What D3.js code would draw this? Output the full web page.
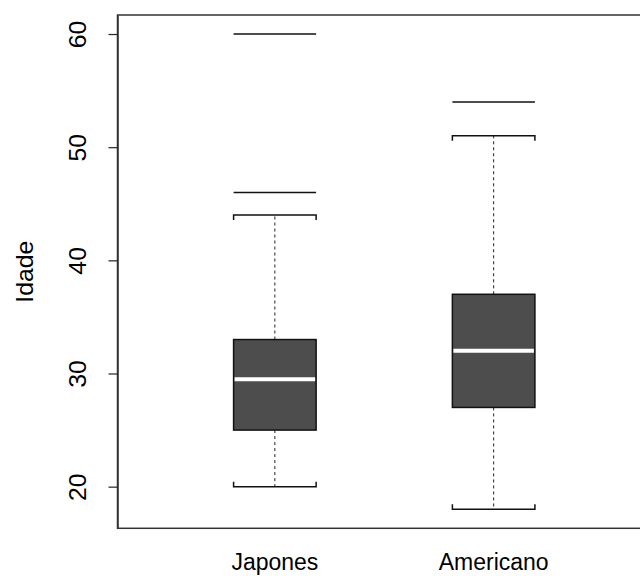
<!DOCTYPE html>
<html><head><meta charset="utf-8">
<script src="https://cdn.jsdelivr.net/npm/d3@7"></script>
<style>html,body{margin:0;padding:0;background:#fff;overflow:hidden}</style>
</head><body>
<svg id="chart" width="640" height="576"></svg>
<script>
const categories = ["Japones", "Americano"];
const lowerWhisker = [20, 18];
const q1 = [25, 27];
const median = [29.5, 32];
const q3 = [33, 37];
const upperWhisker = [44, 51];
const outliers = [[46, 60], [54]];
const yTicks = [20, 30, 40, 50, 60];
const yLabel = "Idade";

const svg = d3.select("#chart");
const pLeft = 117.5, pTop = 15, pBottom = 528.3, pRight = 651;
const y = d3.scaleLinear().domain([16.32, 61.68]).range([pBottom, pTop]);
const x = d3.scaleLinear().domain([0.2808, 2.7192]).range([pLeft, pRight]);
const halfW = 0.1886;
const font = "'Liberation Sans', Arial, sans-serif";

const data = categories.map((c, i) => ({
  name: c, pos: i + 1, lo: lowerWhisker[i], q1: q1[i], med: median[i],
  q3: q3[i], hi: upperWhisker[i], out: outliers[i]
}));

const g = svg.append("g");
data.forEach(d => {
  const cx = x(d.pos), x0 = x(d.pos - halfW), x1 = x(d.pos + halfW);
  g.append("line").attr("x1", cx).attr("x2", cx).attr("y1", y(d.q3)).attr("y2", y(d.hi))
    .attr("stroke", "#222").attr("stroke-width", 1).attr("stroke-dasharray", "3,3");
  g.append("line").attr("x1", cx).attr("x2", cx).attr("y1", y(d.q1)).attr("y2", y(d.lo))
    .attr("stroke", "#222").attr("stroke-width", 1).attr("stroke-dasharray", "3,3");
  g.append("path")
    .attr("d", `M${x0},${y(d.hi) + 5}V${y(d.hi)}H${x1}V${y(d.hi) + 5}`)
    .attr("fill", "none").attr("stroke", "#111").attr("stroke-width", 1.5);
  g.append("path")
    .attr("d", `M${x0},${y(d.lo) - 5}V${y(d.lo)}H${x1}V${y(d.lo) - 5}`)
    .attr("fill", "none").attr("stroke", "#111").attr("stroke-width", 1.5);
  g.append("rect").attr("x", x0).attr("y", y(d.q3)).attr("width", x1 - x0)
    .attr("height", y(d.q1) - y(d.q3)).attr("fill", "#4d4d4d")
    .attr("stroke", "#111").attr("stroke-width", 1.5);
  g.append("line").attr("x1", x0 + 1).attr("x2", x1 - 1).attr("y1", y(d.med)).attr("y2", y(d.med))
    .attr("stroke", "#fff").attr("stroke-width", 4);
  d.out.forEach(v => {
    g.append("line").attr("x1", x0).attr("x2", x1).attr("y1", y(v)).attr("y2", y(v))
      .attr("stroke", "#111").attr("stroke-width", 1.5);
  });
  svg.append("text").attr("transform", `translate(${cx},570) scale(1,1.08)`).attr("text-anchor", "middle")
    .attr("font-family", font).attr("font-size", 23).attr("fill", "#000").text(d.name);
});

svg.append("rect").attr("x", pLeft).attr("y", pTop).attr("width", pRight - pLeft)
  .attr("height", pBottom - pTop).attr("fill", "none").attr("stroke", "#333").attr("stroke-width", 1.5);

const ax = svg.append("g").attr("transform", `translate(${pLeft},0)`)
  .call(d3.axisLeft(y).tickValues(yTicks).tickSize(9).tickSizeOuter(0).tickPadding(0));
ax.select(".domain").attr("stroke", "#333").attr("stroke-width", 1.5);
ax.selectAll(".tick line").attr("stroke", "#222").attr("stroke-width", 1.2);
ax.selectAll(".tick text").attr("x", 0).attr("dy", 0)
  .attr("transform", "translate(-32,0) scale(1,1.08) rotate(-90)")
  .attr("text-anchor", "middle").attr("font-family", font).attr("font-size", 23).attr("fill", "#000");

svg.append("text").attr("transform", `translate(32.5,${(pTop + pBottom) / 2}) scale(1,1.08) rotate(-90)`)
  .attr("text-anchor", "middle").attr("font-family", font).attr("font-size", 23).attr("fill", "#000")
  .text(yLabel);
</script>
</body></html>
